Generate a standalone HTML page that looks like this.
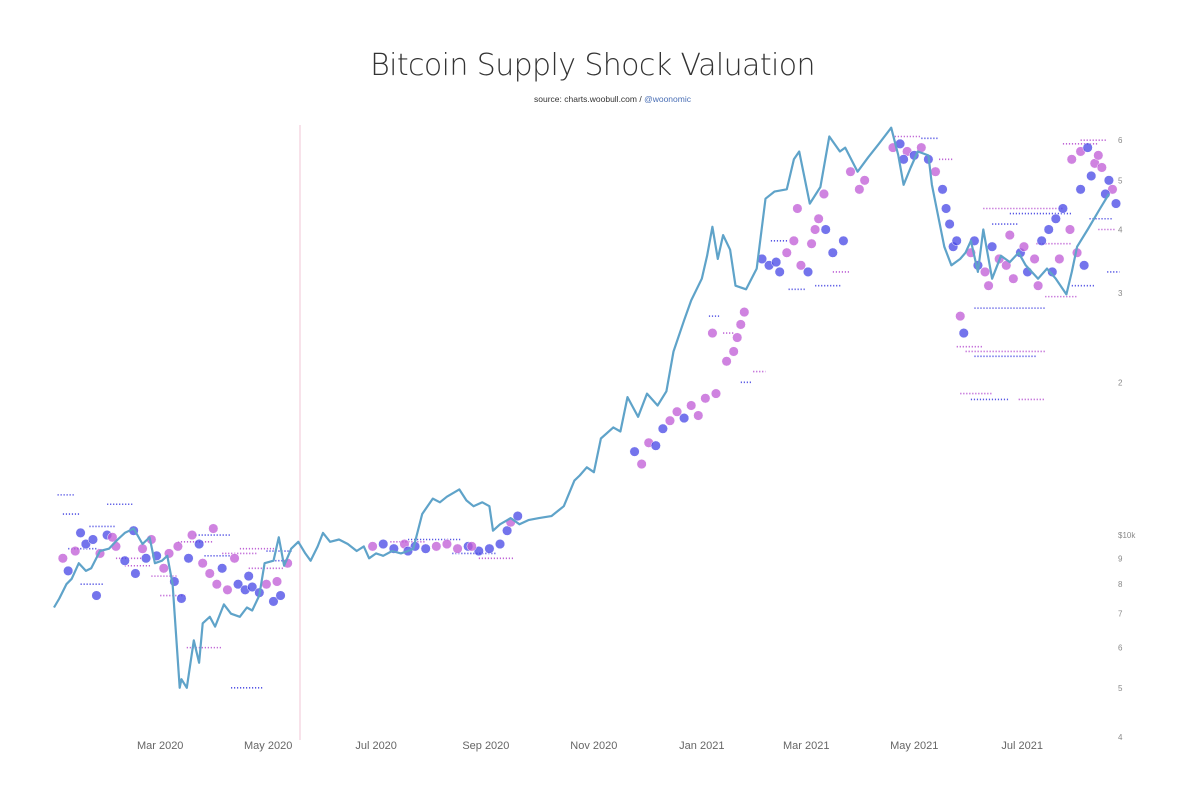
<!DOCTYPE html>
<html><head><meta charset="utf-8">
<style>
html,body{margin:0;padding:0;background:#fff;}
body{width:1200px;height:800px;position:relative;overflow:hidden;font-family:"Liberation Sans",sans-serif;}
#title{position:absolute;top:48px;left:0;width:1185px;text-align:center;font-size:30px;color:#333;font-family:"DejaVu Sans","Liberation Sans",sans-serif;font-weight:200;letter-spacing:-0.6px;}
#sub{position:absolute;top:94px;left:20px;width:1185px;text-align:center;font-size:8.5px;color:#333;}
#sub span{color:#4a6fb5;}
svg{position:absolute;left:0;top:0;}
</style></head><body>
<div id="title">Bitcoin Supply Shock Valuation</div>
<div id="sub">source: charts.woobull.com / <span>@woonomic</span></div>
<svg id="chart" width="1200" height="800"></svg>
<script>
// price line: [day since 2020-01-01, price in $k]
const lineDays=[0,3,7,10,14,18,21,26,31,36,40,45,50,54,57,61,64,67,71,72,75,79,82,84,88,91,96,100,105,109,112,116,119,124,127,130,134,138,142,145,149,152,156,161,166,171,175,178,182,186,191,196,200,203,208,214,218,222,229,233,237,242,246,248,252,258,263,268,274,281,288,294,297,301,305,309,316,320,324,330,335,341,346,350,356,360,366,369,372,375,378,382,385,391,397,402,407,414,418,421,427,433,438,444,447,454,460,466,473,477,480,484,488,494,496,503,507,512,515,518,522,525,530,535,540,545,549,556,561,566,572,575,578,584,591,596];
const linePrices=[7.2,7.5,8.0,8.2,8.8,8.5,8.6,9.3,9.4,9.8,10.1,10.3,9.6,9.9,8.8,8.9,9.1,8.0,5.0,5.2,5.0,6.2,5.6,6.7,6.9,6.6,7.3,7.0,6.9,7.2,7.1,7.6,8.8,8.9,9.9,8.7,9.4,9.7,9.2,8.9,9.5,10.1,9.7,9.8,9.6,9.3,9.5,9.0,9.2,9.1,9.3,9.2,9.3,9.4,11.0,11.8,11.6,11.9,12.3,11.7,11.4,11.6,11.4,10.2,10.5,10.8,10.5,10.7,10.8,10.9,11.4,12.8,13.1,13.6,13.3,15.5,16.3,16.0,18.7,17.1,19.0,18.0,19.2,23.0,26.5,29.0,32.0,35.5,40.5,35.0,39.0,36.5,31.0,30.5,33.5,46.0,47.5,48.0,55.0,57.0,45.0,48.5,61.0,57.0,58.0,52.0,55.5,59.0,63.5,56.0,49.0,53.0,57.0,56.0,49.0,37.0,34.0,35.0,36.0,38.0,33.0,40.0,32.0,35.5,34.5,36.0,34.0,32.0,33.5,32.0,29.8,33.0,37.0,40.0,44.0,47.0,49.0];
// valuation circles
const circleDays=[5,8,12,18,22,26,30,35,40,45,50,55,58,62,65,68,72,76,78,82,84,88,92,95,98,102,104,108,112,116,120,124,128,24,46,132,180,186,192,198,204,210,216,222,228,234,240,246,252,256,258,262,328,332,336,340,348,352,356,360,364,368,374,380,384,386,388,390,400,404,410,414,418,422,426,430,432,436,440,446,420,435,455,458,474,478,482,486,490,494,498,502,504,506,508,512,514,518,522,526,530,534,538,542,546,550,554,558,562,566,570,574,578,582,520,540,556,568,575,580,584,588,592,596,598,594,586,600,15,33,52,70,90,110,126,200,236,344,372,408,428,450,480,510,528,548,564,580,590];
const circlePrices=[9.0,8.5,9.3,9.6,9.8,9.2,10.0,9.5,8.9,10.2,9.4,9.8,9.1,8.6,9.2,8.1,7.5,9.0,10.0,9.6,8.8,8.4,8.0,8.6,7.8,9.0,8.0,7.8,7.9,7.7,8.0,7.4,7.6,7.6,8.4,8.8,9.5,9.6,9.4,9.6,9.5,9.4,9.5,9.6,9.4,9.5,9.3,9.4,9.6,10.2,10.6,10.9,14.6,13.8,15.2,15.0,16.8,17.5,17.0,18.0,17.2,18.6,19.0,22.0,23.0,24.5,26.0,27.5,35,34,33,36,38,34,33,40,42,40,36,38,44,47,48,50,58,59,57,56,58,55,52,48,44,41,37,27,25,36,34,33,37,35,34,32,36,33,35,38,40,42,44,40,36,34,38,39,31,35,55,57,58,54,53,50,48,47,51,45,10.1,9.9,9.0,9.5,10.3,8.3,8.1,9.3,9.5,16.2,25.0,34.5,37.5,52.0,55.0,38.0,31.0,37.0,33.0,48.0,56.0];
const circleColors=[1,0,1,0,0,1,0,1,0,0,1,1,0,1,1,0,0,0,1,0,1,1,1,0,1,1,0,0,0,0,1,0,0,0,0,1,1,0,0,1,0,0,1,1,1,0,0,0,0,0,1,0,0,1,1,0,1,1,0,1,1,1,1,1,1,1,1,1,0,0,0,1,1,1,0,1,1,0,0,0,1,1,1,1,1,0,1,0,1,0,1,0,0,0,0,1,0,1,0,1,0,1,1,1,0,0,1,0,0,0,0,1,1,0,0,1,1,1,1,1,0,1,1,0,1,0,0,0,0,1,0,1,1,0,1,0,1,0,1,0,1,1,0,0,1,1,0,0,1];
// small dotted rows: start day, end day, price
const dashStart=[5,20,40,55,70,80,95,110,120,15,60,100,2,30,75,200,240,370,378,388,395,415,430,510,515,520,525,530,540,555,560,512,518,545,520,570,580,585,590,575,595,8,35,85,105,125,190,225,405,440,475,490,500];
const dashEnd=[15,35,55,70,90,100,115,130,135,28,75,118,12,45,95,230,260,376,384,394,402,425,445,525,560,555,570,545,575,575,578,530,540,560,560,590,595,598,600,588,602,25,50,100,125,132,210,250,415,450,490,500,508];
const dashPrices=[11.0,10.4,8.7,8.3,9.7,10.0,9.2,8.6,9.3,8.0,7.6,5.0,12.0,11.5,6.0,9.8,9.0,27.0,25.0,20.0,21.0,30.5,31.0,23.5,23.0,22.5,44.0,41.0,43.0,37.5,29.5,19.0,18.5,18.5,28.0,59.0,60.0,42.0,40.0,31.0,33.0,9.4,9.0,9.1,9.4,8.9,9.7,9.2,38.0,33.0,61.0,60.5,55.0];
const dashColors=[0,0,1,1,1,0,1,1,0,0,1,0,0,0,1,0,1,0,1,0,1,0,0,1,1,0,1,0,0,1,1,1,0,1,0,1,1,0,1,0,0,0,1,0,1,0,1,0,0,1,1,0,1];
const yTicks=[4,5,6,7,8,9,10,20,30,40,50,60];
const yLabels=["4","5","6","7","8","9","$10k","2","3","4","5","6"];
const xTickDays=[60,121,182,244,305,366,425,486,547];
const xLabels=["Mar 2020","May 2020","Jul 2020","Sep 2020","Nov 2020","Jan 2021","Mar 2021","May 2021","Jul 2021"];

const NS="http://www.w3.org/2000/svg";
const svg=document.getElementById('chart');
const xS=d=>54+d*1.77;
const yS=p=>737-220.4*Math.log(p/4);
function mk(t,a){const e=document.createElementNS(NS,t);for(const k in a)e.setAttribute(k,a[k]);svg.appendChild(e);return e;}

const hv=mk('line',{x1:300,x2:300,y1:125,y2:740,stroke:'#f2c6d6','stroke-width':1});



dashStart.forEach((s,i)=>{
  const l=mk('line',{x1:xS(s),x2:xS(dashEnd[i]),y1:yS(dashPrices[i]),y2:yS(dashPrices[i]),stroke:dashColors[i]?'#b44ad0':'#3a3ae0','stroke-width':1.6,'stroke-dasharray':'1.2,1.8',opacity:0.85});
  
  
});
circleDays.forEach((d,i)=>{
  const c=mk('circle',{cx:xS(d),cy:yS(circlePrices[i]),r:4.8,fill:circleColors[i]?'#bf5ad6':'#4646e6','fill-opacity':0.75,stroke:'#fff','stroke-width':0.5});
  
  
});
let dstr='';
lineDays.forEach((d,i)=>{dstr+=(i?'L':'M')+xS(d).toFixed(1)+','+yS(linePrices[i]).toFixed(1);});
const pl=mk('path',{d:dstr,fill:'none',stroke:'#5fa3c9','stroke-width':2.2,'stroke-linejoin':'round'});



yTicks.forEach((v,i)=>{
  const t=mk('text',{x:1118,y:yS(v)+3,'font-size':8,fill:'#888','font-family':'Liberation Sans, sans-serif'});
  t.textContent=yLabels[i];
  
  
});
xTickDays.forEach((d,i)=>{
  const t=mk('text',{x:xS(d),y:749,'font-size':11,fill:'#666','text-anchor':'middle','font-family':'Liberation Sans, sans-serif'});
  t.textContent=xLabels[i];
  
  
});
</script>
</body></html>
